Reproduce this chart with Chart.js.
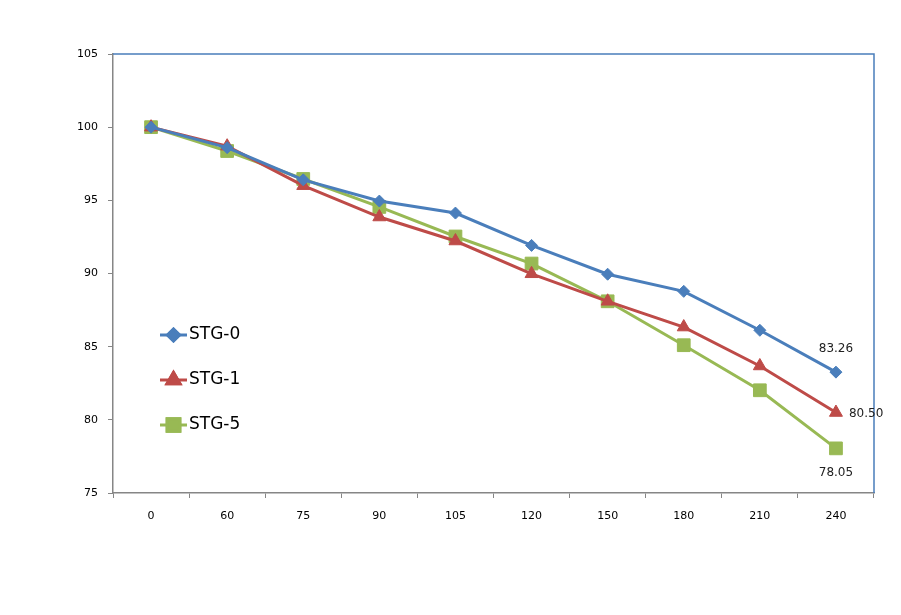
<!DOCTYPE html>
<html>
<head>
<meta charset="utf-8">
<script src="https://cdn.jsdelivr.net/npm/chart.js@4/dist/chart.umd.min.js"></script>
<style>
html,body{margin:0;padding:0;background:#fff;}
#wrap{width:901px;height:615px;position:relative;}
</style>
</head>
<body>
<div id="wrap"><canvas id="c" width="901" height="615"></canvas></div>
<script>
const categories = ['0','60','75','90','105','120','150','180','210','240'];
const stg0 = [100, 98.6, 96.4, 94.95, 94.13, 91.92, 89.95, 88.78, 86.12, 83.26];
const stg1 = [100, 98.7, 96.0, 93.86, 92.22, 89.98, 88.1, 86.34, 83.68, 80.50];
const stg5 = [100, 98.37, 96.46, 94.55, 92.53, 90.68, 88.1, 85.1, 82.02, 78.05];
const seriesNames = ['STG-0','STG-1','STG-5'];
const yMin = 75, yMax = 105, yStep = 5;
const endLabels = ['83.26','80.50','78.05'];

const colors = ['#4A7EBB','#BE4B48','#98B954'];

const borderPlugin = {
  id: 'plotBorder',
  beforeDatasetsDraw(chart) {
    const {ctx, chartArea: a} = chart;
    ctx.save();
    ctx.strokeStyle = '#4A7EBB';
    ctx.lineWidth = 1.5;
    ctx.beginPath();
    ctx.moveTo(a.left, a.top);
    ctx.lineTo(a.right, a.top);
    ctx.lineTo(a.right, a.bottom);
    ctx.stroke();
    ctx.restore();
  }
};

const labelPlugin = {
  id: 'endLabels',
  afterDatasetsDraw(chart) {
    const ctx = chart.ctx;
    ctx.save();
    ctx.font = '12px "DejaVu Sans"';
    ctx.fillStyle = '#222';
    ctx.textBaseline = 'middle';
    chart.data.datasets.forEach((ds, i) => {
      const meta = chart.getDatasetMeta(i);
      const p = meta.data[meta.data.length - 1];
      const txt = endLabels[i];
      if (i === 0) { ctx.textAlign = 'center'; ctx.fillText(txt, p.x, p.y - 23); }
      else if (i === 1) { ctx.textAlign = 'left'; ctx.fillText(txt, p.x + 13, p.y + 1); }
      else { ctx.textAlign = 'center'; ctx.fillText(txt, p.x, p.y + 25); }
    });
    ctx.restore();
  }
};

const legendPlugin = {
  id: 'insideLegend',
  afterDatasetsDraw(chart) {
    const ctx = chart.ctx;
    ctx.save();
    const x0 = 160, x1 = 187, ys = [335, 380, 425];
    chart.data.datasets.forEach((ds, i) => {
      const y = ys[i];
      ctx.strokeStyle = ds.borderColor;
      ctx.lineWidth = 3;
      ctx.beginPath(); ctx.moveTo(x0, y); ctx.lineTo(x1, y); ctx.stroke();
      Chart.helpers.drawPoint(ctx, {pointStyle: ds.pointStyle, radius: ds.pointRadius, borderWidth: 1}, (x0 + x1) / 2, y);
      ctx.fillStyle = ds.pointBackgroundColor;
      ctx.strokeStyle = ds.pointBorderColor;
      ctx.beginPath();
      // redraw filled marker
      Chart.helpers.drawPoint(ctx, {pointStyle: ds.pointStyle, radius: ds.pointRadius, borderWidth: 1}, (x0 + x1) / 2, y);
      ctx.fillStyle = '#000';
      ctx.font = '17px "DejaVu Sans"';
      ctx.textAlign = 'left';
      ctx.textBaseline = 'middle';
      ctx.fillText(ds.label, x1 + 2, y);
    });
    ctx.restore();
  }
};

const series = [stg0, stg1, stg5];
const styles = ['rectRot', 'triangle', 'rect'];
const radii = [6, 7.5, 9];

new Chart(document.getElementById('c'), {
  type: 'line',
  data: {
    labels: categories,
    datasets: series.map((d, i) => ({
      label: seriesNames[i],
      data: d,
      borderColor: colors[i],
      backgroundColor: colors[i],
      pointBackgroundColor: colors[i],
      pointBorderColor: colors[i],
      pointBorderWidth: 1,
      borderWidth: 3,
      pointStyle: styles[i],
      pointRadius: radii[i],
      pointHoverRadius: radii[i],
      tension: 0,
      fill: false
    }))
  },
  options: {
    responsive: false,
    animation: false,
    events: [],
    layout: { padding: { left: 0, top: 54, right: 27, bottom: 0 } },
    plugins: { legend: { display: false }, tooltip: { enabled: false } },
    scales: {
      x: {
        type: 'category',
        offset: true,
        grid: { offset: true, drawOnChartArea: false, drawTicks: true, tickLength: 5, color: '#868686', tickColor: '#868686' },
        border: { display: true, color: '#868686', width: 1.5 },
        ticks: { color: '#000', font: { family: 'DejaVu Sans', size: 11 }, padding: 12, maxRotation: 0, autoSkip: false },
        afterFit(s) { s.height = 122; }
      },
      y: {
        min: yMin, max: yMax,
        grid: { drawOnChartArea: false, drawTicks: true, tickLength: 5, color: '#868686', tickColor: '#868686' },
        border: { display: true, color: '#868686', width: 1.5 },
        ticks: { stepSize: yStep, color: '#000', font: { family: 'DejaVu Sans', size: 11 }, padding: 10 },
        afterFit(s) { s.width = 113; }
      }
    }
  },
  plugins: [borderPlugin, labelPlugin, legendPlugin]
});
</script>
</body>
</html>
